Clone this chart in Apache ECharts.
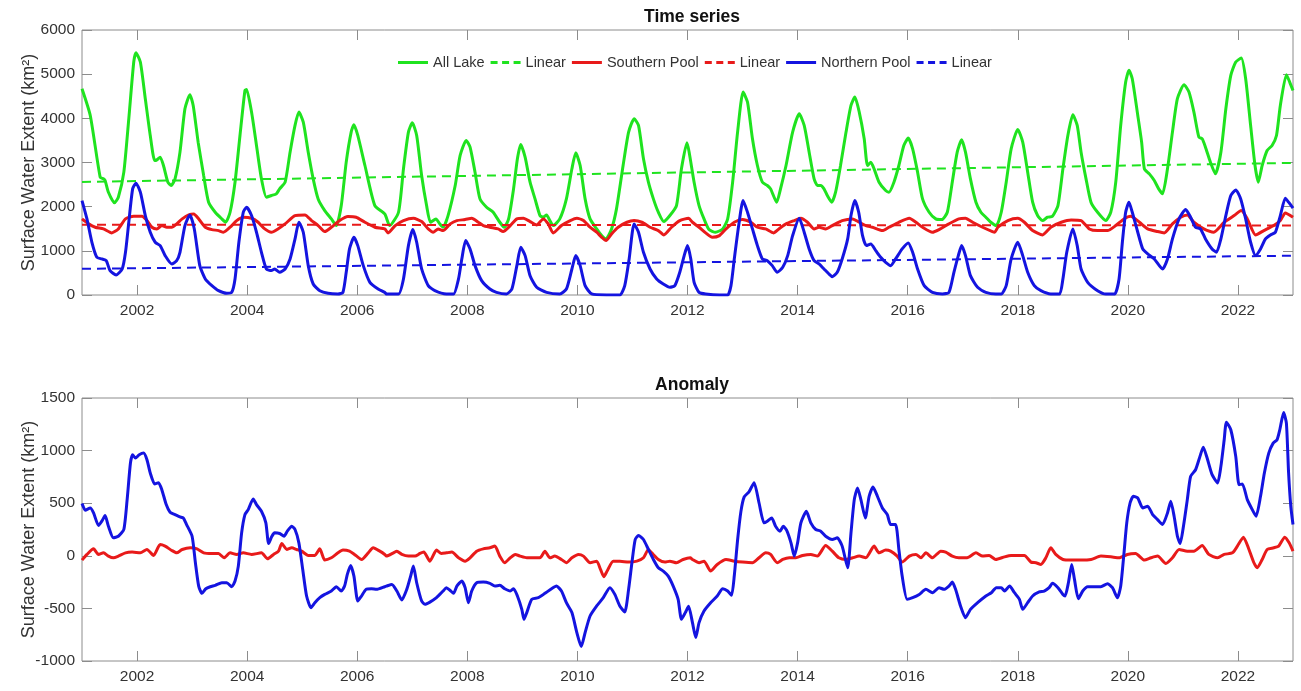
<!DOCTYPE html>
<html>
<head>
<meta charset="utf-8">
<title>Surface Water Extent</title>
<script src="https://cdn.jsdelivr.net/npm/echarts@6/dist/echarts.min.js"></script>
<style>
  html, body { margin: 0; padding: 0; background: #ffffff; }
  #chart { width: 1301px; height: 691px; }
</style>
</head>
<body>
<div id="chart"></div>
<script>
// Tick years shown on both time axes
const yearTicks = [2002, 2004, 2006, 2008, 2010, 2012, 2014, 2016, 2018, 2020, 2022];

// Surface water extent (km²), [decimal year, value]
const allLake = [[2001.00,4670],[2001.15,4065],[2001.33,2668],[2001.39,2630],[2001.42,2592],[2001.48,2327],[2001.59,2086],[2001.66,2214],[2001.76,2781],[2001.85,3990],[2001.94,5275],[2001.98,5486],[2002.06,5275],[2002.15,4444],[2002.24,3612],[2002.32,3045],[2002.36,3060],[2002.42,3121],[2002.48,2932],[2002.56,2554],[2002.62,2479],[2002.69,2630],[2002.78,3234],[2002.87,4217],[2002.96,4534],[2003.02,4292],[2003.11,3461],[2003.21,2705],[2003.30,2100],[2003.42,1874],[2003.54,1723],[2003.61,1647],[2003.69,1874],[2003.78,2554],[2003.87,3612],[2003.96,4632],[2003.99,4655],[2004.08,4141],[2004.17,3386],[2004.26,2630],[2004.35,2214],[2004.44,2252],[2004.53,2290],[2004.59,2403],[2004.69,2554],[2004.78,3234],[2004.87,3839],[2004.94,4141],[2005.02,3915],[2005.11,3234],[2005.20,2630],[2005.29,2176],[2005.41,1912],[2005.53,1723],[2005.62,1572],[2005.71,2025],[2005.80,3008],[2005.89,3688],[2005.94,3854],[2006.01,3612],[2006.14,2932],[2006.32,2025],[2006.50,1836],[2006.59,1572],[2006.75,1874],[2006.84,2857],[2006.93,3688],[2007.00,3899],[2007.08,3612],[2007.17,2705],[2007.26,2025],[2007.33,1647],[2007.43,1723],[2007.50,1610],[2007.56,1534],[2007.65,1799],[2007.78,2479],[2007.87,3159],[2007.98,3499],[2008.05,3348],[2008.14,2781],[2008.23,2176],[2008.35,1987],[2008.47,1874],[2008.59,1647],[2008.67,1534],[2008.75,1723],[2008.84,2403],[2008.91,3083],[2008.97,3408],[2009.05,3121],[2009.14,2554],[2009.23,2176],[2009.32,1799],[2009.38,1761],[2009.44,1813],[2009.50,1685],[2009.56,1572],[2009.68,1723],[2009.80,2176],[2009.90,2857],[2009.97,3219],[2010.05,2932],[2010.14,2176],[2010.23,1723],[2010.35,1496],[2010.44,1345],[2010.52,1270],[2010.62,1496],[2010.71,1950],[2010.83,2932],[2010.93,3688],[2011.03,3990],[2011.11,3839],[2011.20,3083],[2011.29,2554],[2011.38,2176],[2011.47,1874],[2011.57,1663],[2011.68,1799],[2011.80,2025],[2011.89,2857],[2011.99,3446],[2012.03,3234],[2012.12,2554],[2012.21,2025],[2012.30,1723],[2012.39,1481],[2012.51,1421],[2012.64,1496],[2012.73,1723],[2012.82,2554],[2012.91,3688],[2013.01,4595],[2013.09,4368],[2013.18,3537],[2013.27,2932],[2013.36,2554],[2013.45,2479],[2013.51,2403],[2013.62,2101],[2013.69,2403],[2013.79,2932],[2013.91,3688],[2014.03,4103],[2014.12,3839],[2014.21,3234],[2014.30,2630],[2014.36,2479],[2014.42,2479],[2014.48,2403],[2014.54,2252],[2014.62,2101],[2014.69,2328],[2014.78,2932],[2014.88,3688],[2014.97,4292],[2015.04,4481],[2015.12,4141],[2015.21,3537],[2015.27,2932],[2015.33,3008],[2015.39,2857],[2015.48,2554],[2015.60,2365],[2015.66,2328],[2015.75,2554],[2015.84,2932],[2015.93,3386],[2016.01,3552],[2016.09,3310],[2016.18,2781],[2016.27,2176],[2016.39,1874],[2016.51,1723],[2016.62,1708],[2016.72,1874],[2016.81,2554],[2016.90,3234],[2016.98,3514],[2017.05,3234],[2017.14,2630],[2017.24,2101],[2017.33,1874],[2017.42,1761],[2017.51,1647],[2017.61,1572],[2017.70,1874],[2017.79,2554],[2017.88,3310],[2018.00,3748],[2018.09,3461],[2018.18,2781],[2018.27,2101],[2018.36,1799],[2018.45,1685],[2018.54,1761],[2018.63,1783],[2018.73,2025],[2018.82,2857],[2018.91,3612],[2019.00,4081],[2019.08,3839],[2019.15,3234],[2019.24,2630],[2019.33,2101],[2019.45,1874],[2019.60,1685],[2019.69,1874],[2019.78,2554],[2019.87,3839],[2019.96,4821],[2020.02,5086],[2020.08,4897],[2020.18,4066],[2020.25,3461],[2020.30,2857],[2020.39,2743],[2020.48,2592],[2020.56,2403],[2020.63,2290],[2020.72,2857],[2020.81,3688],[2020.90,4444],[2021.02,4761],[2021.11,4595],[2021.20,4141],[2021.29,3575],[2021.35,3537],[2021.41,3348],[2021.50,3008],[2021.59,2743],[2021.69,3234],[2021.78,4217],[2021.87,4972],[2021.96,5275],[2022.06,5365],[2022.14,4897],[2022.23,3839],[2022.31,2932],[2022.37,2554],[2022.44,2932],[2022.53,3272],[2022.62,3386],[2022.70,3612],[2022.77,4292],[2022.88,4988],[2022.94,4821],[2023.00,4632]];

const southernPool = [[2001.00,1723],[2001.12,1610],[2001.24,1534],[2001.39,1496],[2001.54,1406],[2001.66,1496],[2001.79,1723],[2001.94,1783],[2002.09,1783],[2002.18,1685],[2002.27,1534],[2002.36,1496],[2002.45,1572],[2002.54,1534],[2002.63,1534],[2002.72,1610],[2002.82,1723],[2002.94,1813],[2003.03,1836],[2003.12,1723],[2003.24,1534],[2003.36,1481],[2003.48,1458],[2003.57,1421],[2003.69,1534],[2003.81,1685],[2003.93,1761],[2004.08,1738],[2004.20,1647],[2004.32,1496],[2004.44,1421],[2004.56,1496],[2004.69,1610],[2004.87,1799],[2005.05,1813],[2005.17,1685],[2005.29,1572],[2005.41,1436],[2005.53,1534],[2005.68,1685],[2005.83,1776],[2005.98,1761],[2006.14,1647],[2006.32,1534],[2006.50,1496],[2006.56,1406],[2006.69,1572],[2006.84,1685],[2007.02,1738],[2007.17,1663],[2007.29,1496],[2007.38,1421],[2007.47,1496],[2007.56,1458],[2007.69,1610],[2007.81,1685],[2007.96,1708],[2008.08,1738],[2008.20,1647],[2008.29,1572],[2008.41,1534],[2008.56,1496],[2008.65,1436],[2008.78,1572],[2008.90,1723],[2009.02,1738],[2009.14,1663],[2009.26,1587],[2009.38,1723],[2009.47,1610],[2009.56,1406],[2009.71,1572],[2009.87,1685],[2009.99,1738],[2010.11,1685],[2010.23,1534],[2010.35,1421],[2010.44,1307],[2010.52,1232],[2010.62,1383],[2010.74,1534],[2010.90,1647],[2011.03,1685],[2011.17,1647],[2011.32,1534],[2011.47,1458],[2011.57,1360],[2011.71,1534],[2011.86,1685],[2012.02,1738],[2012.09,1647],[2012.21,1534],[2012.33,1406],[2012.45,1307],[2012.58,1345],[2012.70,1496],[2012.85,1647],[2013.00,1708],[2013.15,1647],[2013.27,1534],[2013.42,1496],[2013.56,1406],[2013.66,1496],[2013.79,1610],[2013.94,1685],[2014.06,1738],[2014.18,1647],[2014.30,1496],[2014.39,1534],[2014.51,1496],[2014.63,1572],[2014.81,1685],[2015.00,1723],[2015.12,1647],[2015.24,1572],[2015.36,1534],[2015.54,1458],[2015.66,1534],[2015.84,1647],[2016.03,1738],[2016.15,1647],[2016.27,1534],[2016.45,1421],[2016.57,1481],[2016.75,1610],[2016.93,1723],[2017.05,1738],[2017.18,1647],[2017.36,1534],[2017.54,1436],[2017.58,1421],[2017.64,1534],[2017.82,1685],[2018.00,1738],[2018.12,1647],[2018.27,1458],[2018.45,1360],[2018.60,1534],[2018.79,1647],[2018.97,1700],[2019.15,1685],[2019.30,1496],[2019.45,1458],[2019.63,1458],[2019.78,1572],[2019.93,1723],[2020.05,1783],[2020.21,1647],[2020.36,1496],[2020.54,1436],[2020.66,1406],[2020.81,1610],[2020.96,1761],[2021.08,1813],[2021.20,1647],[2021.38,1496],[2021.56,1421],[2021.75,1647],[2021.93,1799],[2022.06,1912],[2022.17,1723],[2022.32,1360],[2022.47,1458],[2022.65,1572],[2022.77,1685],[2022.86,1859],[2023.00,1761]];

const northernPool = [[2001.00,2139],[2001.09,1723],[2001.18,1194],[2001.27,854],[2001.36,816],[2001.44,778],[2001.51,552],[2001.62,453],[2001.73,589],[2001.79,967],[2001.85,1647],[2001.92,2403],[2001.98,2532],[2002.06,2328],[2002.15,1799],[2002.24,1421],[2002.33,1194],[2002.42,1118],[2002.51,892],[2002.63,703],[2002.72,778],[2002.78,967],[2002.87,1572],[2002.96,1813],[2003.04,1496],[2003.14,665],[2003.24,363],[2003.36,212],[2003.48,98],[2003.63,38],[2003.72,60],[2003.78,363],[2003.85,1194],[2003.93,1874],[2003.99,1987],[2004.08,1799],[2004.17,1421],[2004.26,967],[2004.35,589],[2004.44,552],[2004.50,589],[2004.59,514],[2004.69,589],[2004.78,816],[2004.87,1270],[2004.94,1647],[2005.02,1421],[2005.11,665],[2005.20,249],[2005.32,98],[2005.47,38],[2005.65,23],[2005.74,60],[2005.80,514],[2005.86,1043],[2005.94,1307],[2006.01,1118],[2006.11,665],[2006.23,287],[2006.38,136],[2006.50,60],[2006.53,23],[2006.75,23],[2006.84,363],[2006.93,1118],[2007.01,1481],[2007.08,1194],[2007.17,589],[2007.29,212],[2007.41,98],[2007.62,23],[2007.75,23],[2007.84,363],[2007.90,816],[2007.97,1232],[2008.05,1043],[2008.14,665],[2008.26,325],[2008.41,136],[2008.53,60],[2008.71,23],[2008.81,136],[2008.90,665],[2008.97,1081],[2009.05,892],[2009.14,438],[2009.26,174],[2009.44,60],[2009.68,23],[2009.80,136],[2009.90,589],[2009.97,892],[2010.05,665],[2010.14,212],[2010.26,23],[2010.53,0],[2010.77,0],[2010.86,212],[2010.94,816],[2011.03,1610],[2011.11,1421],[2011.20,967],[2011.32,589],[2011.44,363],[2011.56,249],[2011.68,174],[2011.77,212],[2011.86,514],[2011.94,892],[2012.00,1118],[2012.06,816],[2012.12,287],[2012.21,60],[2012.33,23],[2012.58,0],[2012.73,0],[2012.79,212],[2012.85,816],[2012.93,1572],[2013.01,2139],[2013.09,1874],[2013.18,1496],[2013.27,1118],[2013.36,816],[2013.45,778],[2013.54,665],[2013.63,514],[2013.73,627],[2013.82,892],[2013.91,1345],[2014.03,1738],[2014.12,1421],[2014.21,1043],[2014.30,778],[2014.39,703],[2014.48,589],[2014.57,476],[2014.63,416],[2014.72,514],[2014.81,816],[2014.91,1270],[2014.97,1799],[2015.04,2139],[2015.11,1874],[2015.18,1345],[2015.25,1118],[2015.33,1156],[2015.42,1005],[2015.51,854],[2015.60,741],[2015.69,665],[2015.78,816],[2015.90,1043],[2016.01,1179],[2016.09,967],[2016.18,589],[2016.30,212],[2016.45,60],[2016.63,23],[2016.75,60],[2016.84,514],[2016.92,892],[2016.98,1118],[2017.05,892],[2017.14,438],[2017.27,174],[2017.42,60],[2017.60,23],[2017.70,23],[2017.79,212],[2017.88,816],[2018.00,1194],[2018.09,892],[2018.18,514],[2018.30,212],[2018.42,98],[2018.60,23],[2018.76,23],[2018.82,363],[2018.89,967],[2019.00,1496],[2019.08,1118],[2019.15,589],[2019.27,287],[2019.45,98],[2019.60,23],[2019.76,23],[2019.84,363],[2019.90,1194],[2019.96,1874],[2020.02,2101],[2020.08,1874],[2020.18,1421],[2020.27,1043],[2020.36,930],[2020.48,816],[2020.63,589],[2020.72,816],[2020.81,1270],[2020.93,1723],[2021.05,1935],[2021.14,1761],[2021.23,1534],[2021.32,1496],[2021.41,1270],[2021.53,1043],[2021.61,967],[2021.69,1270],[2021.78,1799],[2021.87,2252],[2021.96,2380],[2022.05,2176],[2022.14,1723],[2022.23,1194],[2022.32,892],[2022.41,1043],[2022.50,1270],[2022.59,1360],[2022.68,1421],[2022.77,1799],[2022.86,2192],[2022.92,2101],[2023.00,1965]];

// Linear fits (end points)
const allLakeTrend = [[2001, 2560], [2023, 2990]];
const southernTrend = [[2001, 1592], [2023, 1575]];
const northernTrend = [[2001, 592], [2023, 890]];

// Anomalies (km²), [decimal year, value]
const southernAnomaly = [[2001.00,-41],[2001.09,13],[2001.21,66],[2001.30,13],[2001.39,28],[2001.48,-3],[2001.57,-19],[2001.66,-3],[2001.79,28],[2001.91,35],[2002.06,28],[2002.18,60],[2002.30,3],[2002.42,107],[2002.51,92],[2002.63,51],[2002.72,28],[2002.82,60],[2002.97,76],[2003.09,66],[2003.21,28],[2003.36,22],[2003.48,22],[2003.58,-19],[2003.69,28],[2003.81,13],[2003.93,28],[2004.08,13],[2004.26,28],[2004.37,-28],[2004.48,13],[2004.57,44],[2004.63,117],[2004.72,60],[2004.81,76],[2004.90,60],[2004.99,44],[2005.11,3],[2005.23,3],[2005.32,66],[2005.41,-41],[2005.53,-19],[2005.65,28],[2005.74,54],[2005.86,44],[2005.95,13],[2006.08,-35],[2006.20,28],[2006.29,76],[2006.41,44],[2006.50,13],[2006.53,-3],[2006.66,28],[2006.72,44],[2006.81,13],[2006.93,-3],[2007.05,-3],[2007.14,22],[2007.21,35],[2007.32,-51],[2007.44,54],[2007.53,22],[2007.62,28],[2007.72,35],[2007.84,-19],[2007.96,-51],[2008.05,-19],[2008.17,44],[2008.29,66],[2008.41,76],[2008.50,92],[2008.59,-3],[2008.68,-66],[2008.78,-19],[2008.87,13],[2008.96,-3],[2009.08,-19],[2009.20,-19],[2009.32,-19],[2009.41,44],[2009.50,-19],[2009.59,-3],[2009.71,-35],[2009.80,-66],[2009.90,-19],[2010.02,13],[2010.11,-3],[2010.23,-66],[2010.35,-51],[2010.42,-130],[2010.48,-199],[2010.54,-145],[2010.65,-51],[2010.77,-51],[2010.93,-60],[2011.08,-51],[2011.20,-19],[2011.29,60],[2011.35,28],[2011.47,-35],[2011.59,-60],[2011.68,-51],[2011.80,-66],[2011.92,-35],[2012.05,-19],[2012.09,-35],[2012.21,-66],[2012.30,-51],[2012.42,-145],[2012.54,-82],[2012.70,-35],[2012.85,-51],[2013.00,-60],[2013.18,-66],[2013.30,-19],[2013.42,28],[2013.51,13],[2013.63,-66],[2013.73,-35],[2013.85,-19],[2013.97,-19],[2014.09,3],[2014.24,13],[2014.36,-3],[2014.51,98],[2014.63,44],[2014.75,-19],[2014.88,-35],[2015.00,-19],[2015.12,-3],[2015.24,-19],[2015.39,92],[2015.48,28],[2015.60,54],[2015.69,44],[2015.81,-3],[2015.90,-60],[2016.03,-3],[2016.15,13],[2016.24,-19],[2016.33,28],[2016.45,-19],[2016.60,44],[2016.69,35],[2016.81,-3],[2016.93,-19],[2017.08,-19],[2017.24,28],[2017.36,-3],[2017.48,3],[2017.60,-35],[2017.76,-10],[2017.88,3],[2018.00,3],[2018.12,3],[2018.24,-60],[2018.33,-66],[2018.42,-82],[2018.51,-19],[2018.60,76],[2018.69,13],[2018.82,-35],[2018.97,-41],[2019.15,-41],[2019.33,-35],[2019.51,-3],[2019.69,-10],[2019.84,-19],[2019.99,13],[2020.14,22],[2020.30,-41],[2020.42,-19],[2020.54,-3],[2020.69,-73],[2020.81,-19],[2020.93,60],[2021.08,44],[2021.20,44],[2021.35,98],[2021.47,13],[2021.63,-19],[2021.75,13],[2021.90,28],[2021.99,92],[2022.10,177],[2022.20,60],[2022.29,-66],[2022.35,-114],[2022.44,-35],[2022.53,60],[2022.65,76],[2022.74,92],[2022.85,177],[2022.93,123],[2023.00,44]];

const northernAnomaly = [[2001.00,496],[2001.06,433],[2001.15,455],[2001.21,408],[2001.30,288],[2001.36,329],[2001.42,382],[2001.48,281],[2001.57,171],[2001.66,186],[2001.76,250],[2001.82,534],[2001.88,882],[2001.92,961],[2001.97,929],[2002.04,961],[2002.12,976],[2002.18,913],[2002.24,787],[2002.32,683],[2002.39,695],[2002.45,629],[2002.53,487],[2002.60,414],[2002.69,392],[2002.78,370],[2002.84,360],[2002.90,297],[2003.00,186],[2003.06,-66],[2003.12,-288],[2003.18,-357],[2003.25,-313],[2003.33,-294],[2003.42,-281],[2003.54,-256],[2003.63,-256],[2003.72,-294],[2003.78,-240],[2003.84,-98],[2003.90,218],[2003.96,392],[2004.02,439],[2004.11,540],[2004.17,487],[2004.26,423],[2004.34,313],[2004.39,117],[2004.45,186],[2004.50,218],[2004.59,212],[2004.67,186],[2004.73,234],[2004.81,281],[2004.87,250],[2004.94,123],[2005.01,-130],[2005.08,-382],[2005.16,-493],[2005.23,-446],[2005.32,-398],[2005.41,-367],[2005.53,-335],[2005.62,-294],[2005.71,-335],[2005.77,-288],[2005.82,-177],[2005.88,-92],[2005.94,-193],[2006.01,-430],[2006.07,-389],[2006.16,-319],[2006.26,-313],[2006.35,-319],[2006.50,-294],[2006.53,-288],[2006.63,-272],[2006.72,-335],[2006.81,-420],[2006.90,-319],[2006.97,-193],[2007.02,-98],[2007.08,-256],[2007.17,-430],[2007.23,-461],[2007.32,-440],[2007.44,-398],[2007.56,-335],[2007.62,-303],[2007.69,-330],[2007.75,-357],[2007.81,-288],[2007.90,-240],[2007.96,-303],[2008.02,-446],[2008.08,-335],[2008.17,-256],[2008.29,-250],[2008.41,-262],[2008.50,-288],[2008.59,-281],[2008.68,-313],[2008.78,-335],[2008.84,-313],[2008.91,-382],[2008.99,-509],[2009.03,-604],[2009.08,-540],[2009.17,-414],[2009.29,-398],[2009.41,-357],[2009.53,-313],[2009.62,-288],[2009.71,-335],[2009.80,-446],[2009.90,-540],[2009.99,-730],[2010.07,-863],[2010.14,-730],[2010.23,-572],[2010.35,-477],[2010.47,-398],[2010.59,-303],[2010.68,-367],[2010.77,-477],[2010.86,-534],[2010.93,-319],[2010.99,-66],[2011.05,155],[2011.11,193],[2011.20,155],[2011.29,60],[2011.38,-35],[2011.47,-114],[2011.56,-145],[2011.65,-193],[2011.74,-288],[2011.83,-414],[2011.89,-604],[2011.96,-540],[2012.02,-480],[2012.09,-635],[2012.15,-777],[2012.21,-635],[2012.30,-525],[2012.42,-446],[2012.54,-382],[2012.64,-313],[2012.73,-335],[2012.80,-376],[2012.85,-190],[2012.91,150],[2012.97,420],[2013.03,560],[2013.12,610],[2013.21,695],[2013.30,502],[2013.39,313],[2013.45,329],[2013.53,360],[2013.60,281],[2013.68,234],[2013.74,281],[2013.80,243],[2013.88,123],[2013.94,-3],[2014.00,123],[2014.06,313],[2014.16,423],[2014.24,313],[2014.33,250],[2014.42,234],[2014.51,186],[2014.63,155],[2014.72,171],[2014.81,92],[2014.91,-114],[2014.97,218],[2015.03,534],[2015.09,645],[2015.15,534],[2015.23,360],[2015.30,566],[2015.37,654],[2015.45,566],[2015.54,455],[2015.63,392],[2015.69,297],[2015.78,297],[2015.84,60],[2015.90,-193],[2015.99,-414],[2016.09,-398],[2016.21,-367],[2016.33,-319],[2016.45,-351],[2016.57,-303],[2016.66,-319],[2016.75,-288],[2016.81,-250],[2016.87,-319],[2016.96,-477],[2017.05,-588],[2017.14,-509],[2017.27,-446],[2017.42,-382],[2017.52,-351],[2017.61,-303],[2017.70,-303],[2017.76,-335],[2017.85,-288],[2017.94,-351],[2018.03,-414],[2018.09,-509],[2018.18,-446],[2018.27,-382],[2018.39,-344],[2018.48,-335],[2018.57,-303],[2018.63,-262],[2018.73,-303],[2018.82,-367],[2018.86,-382],[2018.92,-256],[2018.98,-82],[2019.03,-224],[2019.10,-408],[2019.18,-335],[2019.27,-294],[2019.39,-294],[2019.51,-294],[2019.63,-265],[2019.72,-303],[2019.81,-398],[2019.87,-288],[2019.93,28],[2019.98,313],[2020.04,502],[2020.10,566],[2020.18,550],[2020.27,455],[2020.36,471],[2020.45,392],[2020.54,344],[2020.63,297],[2020.72,408],[2020.78,518],[2020.84,376],[2020.90,186],[2020.95,117],[2021.01,281],[2021.08,534],[2021.14,755],[2021.23,818],[2021.31,945],[2021.37,1033],[2021.44,929],[2021.53,771],[2021.63,692],[2021.69,850],[2021.75,1103],[2021.79,1270],[2021.87,1198],[2021.96,945],[2022.02,676],[2022.08,683],[2022.17,534],[2022.26,439],[2022.33,376],[2022.41,566],[2022.48,787],[2022.56,976],[2022.64,1071],[2022.71,1103],[2022.76,1198],[2022.83,1362],[2022.88,1261],[2022.92,787],[2022.96,471],[2023.00,297]];

const GREEN = '#1fe31f';
const RED = '#e81a1a';
const BLUE = '#1414e0';
const FONT = '"Liberation Sans", Arial, Helvetica, sans-serif';
const TEXT = '#333333';
const FRAME = '#8c8c8c';

// Legend keys: a solid bar and a three-dash bar
const SOLID_KEY = 'path://M0,0h30v3h-30z';
const DASH_KEY = 'path://M0,0h7v3h-7zM11.5,0h7v3h-7zM23,0h7v3h-7z';

const chart = echarts.init(document.getElementById('chart'), null, { renderer: 'canvas' });

function xAxisFor(gridIndex, main) {
  return {
    type: 'value', gridIndex, min: 2001, max: 2023,
    position: main ? 'bottom' : 'top',
    axisLine: { show: false, onZero: false },
    splitLine: { show: false },
    axisTick: { show: true, inside: true, length: 10, lineStyle: { color: FRAME, width: 1 }, customValues: yearTicks },
    axisLabel: main
      ? { show: true, margin: 8, color: TEXT, fontFamily: FONT, fontSize: 15.5, customValues: yearTicks, formatter: v => String(v) }
      : { show: false }
  };
}

function yAxisFor(gridIndex, main, min, max, step, name) {
  const ax = {
    type: 'value', gridIndex, min, max, interval: step,
    position: main ? 'left' : 'right',
    axisLine: { show: false, onZero: false },
    splitLine: { show: false },
    axisTick: { show: true, inside: true, length: 10, lineStyle: { color: FRAME, width: 1 } },
    axisLabel: main
      ? { show: true, margin: 7, color: TEXT, fontFamily: FONT, fontSize: 15.5, formatter: v => String(v) }
      : { show: false }
  };
  if (main) {
    ax.name = name;
    ax.nameLocation = 'middle';
    ax.nameGap = 44;
    ax.nameMoveOverlap = false;
    ax.nameRotate = 90;
    ax.nameTextStyle = { color: TEXT, fontFamily: FONT, fontSize: 18 };
  }
  return ax;
}

function curve(name, data, color, axisIdx, dashed) {
  return {
    type: 'line', name, data,
    xAxisIndex: axisIdx, yAxisIndex: axisIdx,
    symbol: 'none', showSymbol: false,
    smooth: dashed ? false : 0.2,
    lineStyle: { color, width: dashed ? 2 : 3, type: dashed ? [9, 6] : 'solid' },
    itemStyle: { color },
    emphasis: { disabled: true },
    z: 2
  };
}

const yLabel = 'Surface Water Extent (km²)';

chart.setOption({
  animation: false,
  backgroundColor: '#ffffff',
  title: [
    { text: 'Time series', left: 687, top: 3, textAlign: 'center',
      textStyle: { fontFamily: FONT, fontSize: 17.5, fontWeight: 'bold', color: '#111' } },
    { text: 'Anomaly', left: 687, top: 371, textAlign: 'center',
      textStyle: { fontFamily: FONT, fontSize: 17.5, fontWeight: 'bold', color: '#111' } }
  ],
  legend: {
    left: 398, top: 55, padding: 0,
    itemWidth: 30, itemHeight: 3, itemGap: 6,
    selectedMode: false,
    data: [
      { name: 'All Lake', icon: SOLID_KEY },
      { name: 'Linear', icon: DASH_KEY },
      { name: 'Southern Pool', icon: SOLID_KEY },
      { name: 'Linear ', icon: DASH_KEY },
      { name: 'Northern Pool', icon: SOLID_KEY },
      { name: 'Linear  ', icon: DASH_KEY }
    ],
    formatter: n => n.trim(),
    textStyle: { color: TEXT, fontFamily: FONT, fontSize: 14.5 }
  },
  grid: [
    { left: 82, top: 30, width: 1211, height: 265, outerBoundsMode: 'none', containLabel: false,
      show: true, borderColor: FRAME, borderWidth: 1, backgroundColor: 'transparent' },
    { left: 82, top: 398, width: 1211, height: 263, outerBoundsMode: 'none', containLabel: false,
      show: true, borderColor: FRAME, borderWidth: 1, backgroundColor: 'transparent' }
  ],
  xAxis: [
    xAxisFor(0, true), xAxisFor(0, false),
    xAxisFor(1, true), xAxisFor(1, false)
  ],
  yAxis: [
    yAxisFor(0, true, 0, 6000, 1000, yLabel), yAxisFor(0, false, 0, 6000, 1000),
    yAxisFor(1, true, -1000, 1500, 500, yLabel), yAxisFor(1, false, -1000, 1500, 500)
  ],
  series: [
    curve('All Lake', allLake, GREEN, 0, false),
    curve('Linear', allLakeTrend, GREEN, 0, true),
    curve('Southern Pool', southernPool, RED, 0, false),
    curve('Linear ', southernTrend, RED, 0, true),
    curve('Northern Pool', northernPool, BLUE, 0, false),
    curve('Linear  ', northernTrend, BLUE, 0, true),
    curve('Southern Pool anomaly', southernAnomaly, RED, 2, false),
    curve('Northern Pool anomaly', northernAnomaly, BLUE, 2, false)
  ]
});
</script>
</body>
</html>
